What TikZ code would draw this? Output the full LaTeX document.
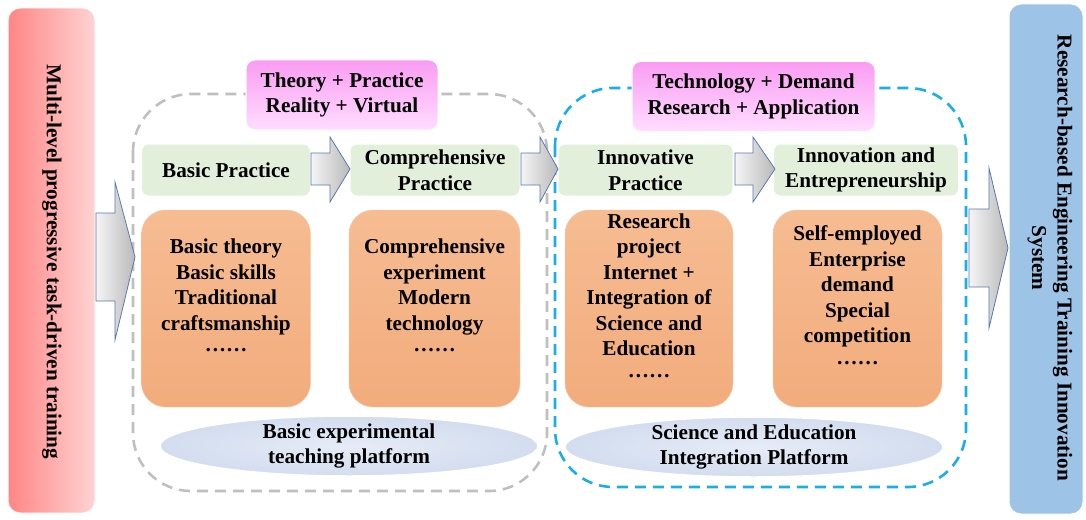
\documentclass[tikz,border=0pt]{standalone}
\usepackage{fontspec}
\setmainfont{Liberation Serif}
\usetikzlibrary{shapes.geometric}
\definecolor{redA}{HTML}{FF8585}
\definecolor{redB}{HTML}{FFD3D3}
\definecolor{blueBox}{HTML}{9DC3E6}
\definecolor{pinkA}{HTML}{F99CF2}
\definecolor{pinkB}{HTML}{FFDDFF}
\definecolor{greenBox}{HTML}{E2EFDA}
\definecolor{orangeA}{HTML}{F6BC92}
\definecolor{orangeB}{HTML}{F2AC7C}
\definecolor{ellA}{HTML}{E6ECF7}
\definecolor{ellB}{HTML}{D3DDEF}
\definecolor{arrowLine}{HTML}{5A78B0}
\definecolor{dashGray}{HTML}{BFBFBF}
\definecolor{dashBlue}{HTML}{1AAEE8}
\newcommand\blockarrow[7]{%
  \shade[left color=gray!8,right color=gray!55,draw=arrowLine,line width=0.8pt]
  (#1,#4-#5) -- (#2,#4-#5) -- (#2,#4-#6) -- (#3,#4) -- (#2,#4+#7) -- (#2,#4+#5) -- (#1,#4+#5) -- cycle;}
\tikzset{
  txt/.style={font=\bfseries\fontsize{21.2}{25.5}\selectfont,align=center,text=black,inner sep=0pt},
  greenbox/.style={draw=white,line width=1pt,fill=greenBox,rounded corners=7pt,minimum height=52pt,inner sep=0pt},
  orangebox/.style={top color=orangeA,bottom color=orangeB,draw=orangeA!80!white,rounded corners=24pt,minimum height=197pt,inner sep=0pt},
  pinkbox/.style={top color=pinkA,bottom color=pinkB,draw=white,line width=1pt,rounded corners=9pt,minimum height=70pt,inner sep=0pt},
  platform/.style={ellipse,inner color=ellA,outer color=ellB,draw=white,line width=1.5pt,minimum width=378pt,minimum height=60pt,inner sep=0pt},
}
\begin{document}
\begin{tikzpicture}[x=1pt,y=-1pt]
\useasboundingbox (0,0) rectangle (1086,519);
% dashed containers
\draw[dashGray,line width=2.6pt,dash pattern=on 11pt off 7pt,rounded corners=58pt] (133,94) rectangle (547,491);
\draw[dashBlue,line width=2.6pt,dash pattern=on 11pt off 7pt,rounded corners=58pt] (555,88) rectangle (966,487);
% side boxes
\node[draw=white,line width=1pt,left color=redA,right color=redB,rounded corners=12pt,minimum width=87pt,minimum height=505pt,inner sep=0pt] (left) at (51.5,260.5) {};
\node[txt,rotate=-90] (lefttxt) at (52,262) {Multi-level progressive task-driven training};
\node[draw=white,line width=1pt,fill=blueBox,rounded corners=12pt,minimum width=74pt,minimum height=510pt,inner sep=0pt] (right) at (1046,259) {};
\node[txt,rotate=-90] (righttxt) at (1050,258) {Research-based Engineering Training Innovation\\System};
% pink boxes
\node[pinkbox,minimum width=192pt] (p1) at (342,95) {};
\node[txt] at (p1) {Theory + Practice\\Reality + Virtual};
\node[pinkbox,minimum width=243pt] (p2) at (753.5,96.5) {};
\node[txt] at (p2) {Technology + Demand\\Research + Application};
% green boxes
\node[greenbox,minimum width=169pt] (g1) at (226,170) {};
\node[txt] at (g1) {Basic Practice};
\node[greenbox,minimum width=170pt] (g2) at (435,170) {};
\node[txt] at (g2) {Comprehensive\\Practice};
\node[greenbox,minimum width=175pt] (g3) at (645.5,170) {};
\node[txt] at (g3) {Innovative\\Practice};
\node[greenbox,minimum width=185pt] (g4) at (866,170) {};
\node[txt] at (g4) {Innovation and\\Entrepreneurship};
% orange boxes
\node[orangebox,minimum width=169pt] (o1) at (226,308.5) {};
\node[txt] at (226,297.5) {Basic theory\\Basic skills\\Traditional\\craftsmanship\\\raisebox{4pt}{……}};
\node[orangebox,minimum width=171pt] (o2) at (434.5,308.5) {};
\node[txt] at (434.5,297.5) {Comprehensive\\experiment\\Modern\\technology\\\raisebox{4pt}{……}};
\node[orangebox,minimum width=168pt] (o3) at (649,308.5) {};
\node[txt] at (649,297.5) {Research\\project\\Internet +\\Integration of\\Science and\\Education\\\raisebox{4pt}{……}};
\node[orangebox,minimum width=169pt] (o4) at (857.5,308.5) {};
\node[txt] at (857.5,297) {Self-employed\\Enterprise\\demand\\Special\\competition\\\raisebox{4pt}{……}};
% platforms
\node[platform] (e1) at (349,446) {};
\node[txt] at (e1) {Basic experimental\\teaching platform};
\node[platform] (e2) at (754,447) {};
\node[txt] at (e2) {Science and Education\\Integration Platform};
% block arrows
\blockarrow{96}{115}{135}{257}{44}{75}{83}
\blockarrow{969}{989}{1008}{248}{39}{80}{80}
\blockarrow{311}{330}{350}{169}{16}{32}{33}
\blockarrow{521}{540}{558}{169}{16}{32}{33}
\blockarrow{735}{753}{775}{169}{16}{32}{33}
\end{tikzpicture}
\end{document}
